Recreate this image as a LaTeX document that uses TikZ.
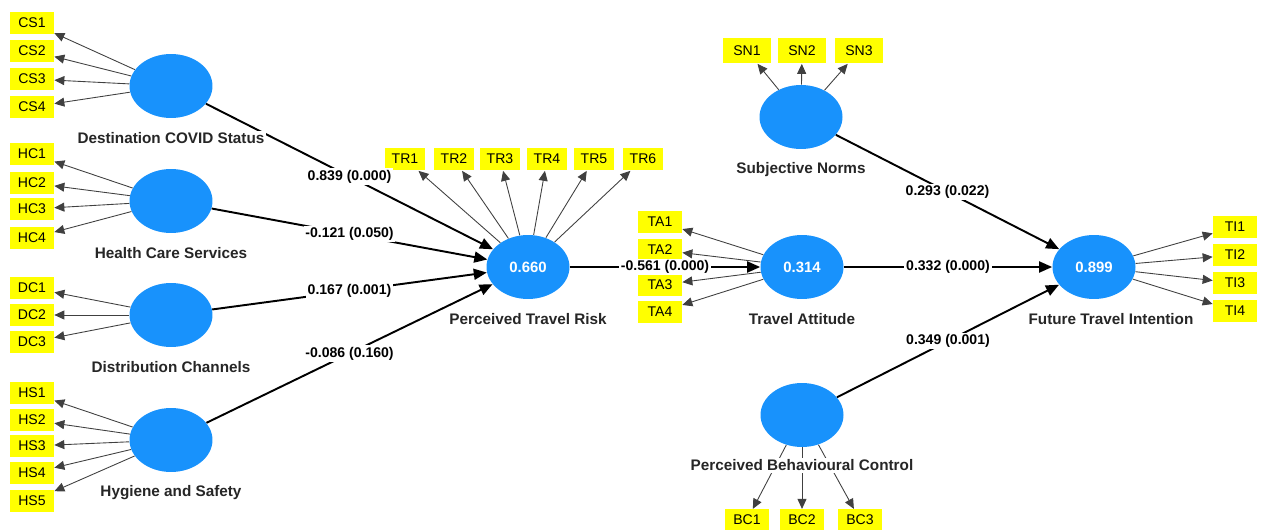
\documentclass[tikz,border=0pt]{standalone}
\usepackage{fontspec}
\setmainfont{Liberation Sans}
\usetikzlibrary{positioning, arrows.meta, shapes.geometric}
\definecolor{lvblue}{RGB}{24,146,252}
\definecolor{mvyellow}{RGB}{255,255,0}
\tikzset{
  lv/.style={ellipse, fill=lvblue, minimum width=1.66cm, minimum height=1.28cm,
             inner sep=0pt, text=white, font=\fontsize{8.5}{10}\selectfont\bfseries},
  mv/.style={fill=mvyellow, minimum width=0.88cm, minimum height=0.43cm,
             inner sep=0pt, font=\fontsize{8}{9.6}\selectfont},
  mvtr/.style={mv, minimum width=0.8cm, minimum height=0.46cm},
  mvsn/.style={mv, minimum width=0.97cm, minimum height=0.5cm},
  lvname/.style={fill=white, inner sep=1pt, text=black!85,
                 font=\fontsize{8.7}{10}\selectfont\bfseries},
  coef/.style={fill=white, inner sep=1pt, font=\fontsize{8}{9.6}\selectfont\bfseries},
  load/.style={-{Triangle[length=2mm, width=1.8mm]}, draw=black!75, line width=0.5pt},
  struct/.style={-{Triangle[length=2.6mm, width=2.2mm]}, line width=1.1pt},
}
\begin{document}
\begin{tikzpicture}[x=0.02cm, y=-0.02cm]
  \useasboundingbox (0,0) rectangle (1263,530);
  % latent variables
  \node[lv](dcs) at (171,86){};
  \node[lv](hcs) at (171,201){};
  \node[lv](dch) at (171,315){};
  \node[lv](hys) at (171,440){};
  \node[lv](ptr) at (528,267){0.660};
  \node[lv](tat) at (802,267){0.314};
  \node[lv](sno) at (801,117){};
  \node[lv](pbc) at (802,415){};
  \node[lv](fti) at (1094,267){0.899};
  % indicators
  \node[mv](cs1) at (32,23){CS1};
  \node[mv](cs2) at (32,51){CS2};
  \node[mv](cs3) at (32,79){CS3};
  \node[mv](cs4) at (32,107){CS4};
  \node[mv](hc1) at (32,154){HC1};
  \node[mv](hc2) at (32,183){HC2};
  \node[mv](hc3) at (32,209){HC3};
  \node[mv](hc4) at (32,238){HC4};
  \node[mv](dc1) at (32,288){DC1};
  \node[mv](dc2) at (32,315){DC2};
  \node[mv](dc3) at (32,342){DC3};
  \node[mv](hs1) at (32,393){HS1};
  \node[mv](hs2) at (32,420){HS2};
  \node[mv](hs3) at (32,446){HS3};
  \node[mv](hs4) at (32,473){HS4};
  \node[mv](hs5) at (32,501){HS5};
  \node[mvtr](tr1) at (405,159){TR1};
  \node[mvtr](tr2) at (454,159){TR2};
  \node[mvtr](tr3) at (500,159){TR3};
  \node[mvtr](tr4) at (547,159){TR4};
  \node[mvtr](tr5) at (594,159){TR5};
  \node[mvtr](tr6) at (643,159){TR6};
  \node[mv](ta1) at (660,222){TA1};
  \node[mv](ta2) at (660,250){TA2};
  \node[mv](ta3) at (660,285){TA3};
  \node[mv](ta4) at (660,312){TA4};
  \node[mvsn](sn1) at (747,51){SN1};
  \node[mvsn](sn2) at (802,51){SN2};
  \node[mvsn](sn3) at (859,51){SN3};
  \node[mv](bc1) at (747,520){BC1};
  \node[mv](bc2) at (802,520){BC2};
  \node[mv](bc3) at (860,520){BC3};
  \node[mv](ti1) at (1235,227){TI1};
  \node[mv](ti2) at (1235,255){TI2};
  \node[mv](ti3) at (1235,283){TI3};
  \node[mv](ti4) at (1235,311){TI4};
  % outer loadings
  \draw[load](dcs)--(cs1); \draw[load](dcs)--(cs2); \draw[load](dcs)--(cs3); \draw[load](dcs)--(cs4);
  \draw[load](hcs)--(hc1); \draw[load](hcs)--(hc2); \draw[load](hcs)--(hc3); \draw[load](hcs)--(hc4);
  \draw[load](dch)--(dc1); \draw[load](dch)--(dc2); \draw[load](dch)--(dc3);
  \draw[load](hys)--(hs1); \draw[load](hys)--(hs2); \draw[load](hys)--(hs3);
  \draw[load](hys)--(hs4); \draw[load](hys)--(hs5);
  \draw[load](ptr)--(tr1); \draw[load](ptr)--(tr2); \draw[load](ptr)--(tr3);
  \draw[load](ptr)--(tr4); \draw[load](ptr)--(tr5); \draw[load](ptr)--(tr6);
  \draw[load](tat)--(ta1); \draw[load](tat)--(ta2); \draw[load](tat)--(ta3); \draw[load](tat)--(ta4);
  \draw[load](sno)--(sn1); \draw[load](sno)--(sn2); \draw[load](sno)--(sn3);
  \draw[load](pbc)--(bc1); \draw[load](pbc)--(bc2); \draw[load](pbc)--(bc3);
  \draw[load](fti)--(ti1); \draw[load](fti)--(ti2); \draw[load](fti)--(ti3); \draw[load](fti)--(ti4);
  % path coefficients
  \draw[struct](dcs)--node[coef]{0.839 (0.000)}(ptr);
  \draw[struct](hcs)--node[coef]{-0.121 (0.050)}(ptr);
  \draw[struct](dch)--node[coef]{0.167 (0.001)}(ptr);
  \draw[struct](hys)--node[coef]{-0.086 (0.160)}(ptr);
  \draw[struct](ptr)--node[coef]{-0.561 (0.000)}(tat);
  \draw[struct](tat)--node[coef]{0.332 (0.000)}(fti);
  \draw[struct](sno)--node[coef]{0.293 (0.022)}(fti);
  \draw[struct](pbc)--node[coef]{0.349 (0.001)}(fti);
  % construct names
  \node[lvname](dcsl) at ([yshift=-4mm]dcs.south){Destination COVID Status};
  \node[lvname](hcsl) at ([yshift=-4mm]hcs.south){Health Care Services};
  \node[lvname](dchl) at ([yshift=-4mm]dch.south){Distribution Channels};
  \node[lvname](hysl) at ([yshift=-4mm]hys.south){Hygiene and Safety};
  \node[lvname](ptrl) at ([yshift=-4mm]ptr.south){Perceived Travel Risk};
  \node[lvname](tatl) at ([yshift=-4mm]tat.south){Travel Attitude};
  \node[lvname](snol) at ([yshift=-4mm]sno.south){Subjective Norms};
  \node[lvname](pbcl) at ([yshift=-3.6mm]pbc.south){Perceived Behavioural Control};
  \node[lvname](ftil) at ([xshift=3.4mm, yshift=-4mm]fti.south){Future Travel Intention};
\end{tikzpicture}
\end{document}
